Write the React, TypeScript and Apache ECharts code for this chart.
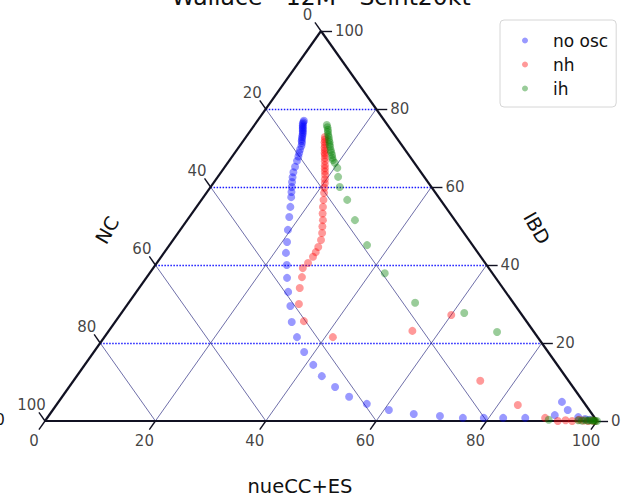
import React, { useEffect, useRef } from "react";
import * as echarts from "echarts";

const TITLE = "Wallace - 12M - Scint20kt";
const AXIS_BOTTOM = "nueCC+ES";
const AXIS_LEFT = "NC";
const AXIS_RIGHT = "IBD";
const tickValues = [0, 20, 40, 60, 80, 100];
const gridValues = [20, 40, 60, 80];
const seriesNames = ["no osc", "nh", "ih"];

// each point: [nueCC+ES %, IBD %]; NC = 100 - both
const noOsc: [number, number][] = [
  [8.4, 77.0], [8.5, 76.6], [8.6, 76.2], [8.8, 75.8], [9.0, 75.4], [9.2, 75.0], [9.4, 74.6],
  [9.6, 74.2], [9.8, 73.8], [10.0, 73.3], [10.2, 72.8], [10.4, 72.3], [10.6, 71.8], [10.9, 71.3],
  [11.2, 70.5], [11.4, 69.6], [11.7, 68.7], [12.0, 67.8], [12.3, 66.7], [12.7, 65.2], [13.1, 63.8],
  [13.6, 62.5], [14.1, 61.3], [14.7, 60.0], [15.3, 58.7], [15.9, 57.4], [17.0, 54.9], [18.1, 52.3],
  [19.5, 49.0], [20.9, 45.9], [22.1, 43.1], [23.8, 40.0], [25.5, 36.7], [27.5, 33.1], [29.7, 29.5],
  [32.0, 25.4], [34.9, 21.5], [38.1, 17.7], [41.4, 14.4], [44.4, 11.5], [48.2, 8.7], [52.0, 6.2],
  [56.1, 4.4], [60.9, 2.8], [65.9, 1.8], [70.9, 1.3], [75.3, 0.8], [79.1, 0.8], [82.6, 0.8],
  [86.6, 0.8], [91.6, 1.5], [91.2, 4.9], [93.3, 2.8], [96.1, 1.0], [97.6, 0.5], [98.5, 0.3],
];
const nh: [number, number][] = [
  [14.3, 72.8], [14.6, 72.2], [14.9, 71.5], [15.3, 70.8], [15.6, 70.1], [16.0, 69.4], [16.3, 68.7],
  [16.6, 68.2], [17.0, 67.4], [17.4, 66.6], [17.9, 65.6], [18.3, 64.8], [18.7, 64.0], [19.2, 63.1],
  [19.7, 62.0], [20.2, 61.0], [20.7, 59.8], [21.3, 58.5], [22.1, 56.7], [22.9, 54.9], [23.7, 53.2],
  [24.6, 51.5], [25.3, 49.9], [26.1, 48.2], [26.8, 46.4], [27.2, 44.6], [27.4, 43.3], [27.5, 42.1],
  [27.4, 40.5], [27.1, 39.2], [28.1, 36.9], [29.1, 34.1], [31.0, 30.0], [34.1, 25.6], [41.4, 21.5],
  [55.0, 23.1], [60.0, 27.2], [73.7, 10.3], [83.6, 4.1], [90.2, 0.8], [92.9, 0.0], [94.2, 0.2],
  [95.5, 0.0], [96.6, 0.3], [97.5, 0.1], [98.4, 0.0], [99.1, 0.1], [99.6, 0.0],
];
const ih: [number, number][] = [
  [13.1, 75.9], [13.5, 75.3], [13.9, 74.7], [14.2, 74.1], [14.6, 73.4], [15.0, 72.8], [15.4, 72.1],
  [15.8, 71.5], [16.1, 70.9], [16.5, 70.3], [17.0, 69.5], [17.4, 68.9], [17.9, 68.2], [18.3, 67.5],
  [18.7, 66.9], [19.4, 66.2], [20.5, 64.9], [21.8, 62.6], [23.4, 60.0], [26.4, 56.7], [30.4, 51.5],
  [35.8, 45.1], [42.6, 37.9], [51.9, 30.3], [62.1, 27.7], [70.5, 22.8], [91.1, 0.3], [96.5, 0.2],
  [97.2, 0.1], [97.8, 0.2], [98.3, 0.1], [98.7, 0.2], [99.1, 0.1], [99.4, 0.1], [99.7, 0.0], [100, 0],
];
const seriesData = [noOsc, nh, ih];
const seriesColors = ["rgba(0,0,255,0.5)", "rgba(255,0,0,0.5)", "rgba(0,128,0,0.5)"];

const FONT = "DejaVu Sans";
// ternary [b, t] -> cartesian [x, y]
const toXY = (b: number, t: number): [number, number] => [b + t / 2, t];

export default function App() {
  const ref = useRef<HTMLDivElement>(null);
  useEffect(() => {
    if (!ref.current) return;
    const chart = echarts.init(ref.current, undefined, { renderer: "svg" });

    const horiz = gridValues.map((k) => ({ coords: [toXY(0, k), toXY(100 - k, k)] }));
    const diagB = gridValues.map((k) => ({ coords: [toXY(k, 0), toXY(k, 100 - k)] }));
    const diagL = gridValues.map((k) => ({ coords: [toXY(100 - k, 0), toXY(0, 100 - k)] }));

    const d = 2.2;
    const tickSegs: any[] = [];
    tickValues.forEach((v) => {
      const pb = toXY(v, 0);
      tickSegs.push({ coords: [pb, [pb[0] - d / 2, -d]] });
      const pl = toXY(0, 100 - v);
      tickSegs.push({ coords: [pl, [pl[0] - d / 2, pl[1] + d]] });
      const pr = toXY(100 - v, v);
      tickSegs.push({ coords: [pr, [pr[0] + 2, pr[1]]] });
    });

    const labelSeries = (data: any[], offset: number[], align: string) => ({
      type: "scatter",
      silent: true,
      symbolSize: 1,
      clip: false,
      itemStyle: { color: "transparent" },
      data,
      z: 5,
      label: {
        show: true,
        position: "inside",
        offset,
        align,
        verticalAlign: "middle",
        fontFamily: FONT,
        fontSize: 15,
        color: "#111",
        formatter: (p: any) => String(p.data.name),
      },
    });

    const option: any = {
      animation: false,
      backgroundColor: "#fff",
      grid: { left: 45, top: 31, width: 552, height: 390, containLabel: false },
      xAxis: { type: "value", min: 0, max: 100, show: false },
      yAxis: { type: "value", min: 0, max: 100, show: false },
      legend: {
        orient: "vertical",
        left: 500,
        top: 20,
        padding: [12, 8, 10, 22],
        itemWidth: 6,
        itemHeight: 6,
        itemGap: 7,
        icon: "circle",
        borderColor: "#d6d6d6",
        borderWidth: 1,
        borderRadius: 4,
        backgroundColor: "#fff",
        textStyle: { fontFamily: FONT, fontSize: 17, color: "#111", padding: [0, 0, 0, 20] },
        data: seriesNames,
      },
      series: [
        {
          type: "lines",
          coordinateSystem: "cartesian2d",
          silent: true,
          clip: false,
          z: 1,
          lineStyle: { color: "#0000ff", width: 1.3, type: [1.5, 1.5], opacity: 0.9 },
          data: horiz,
        },
        {
          type: "lines",
          coordinateSystem: "cartesian2d",
          silent: true,
          clip: false,
          z: 1,
          lineStyle: { color: "#2a2a80", width: 0.8, opacity: 0.85 },
          data: [...diagB, ...diagL],
        },
        {
          type: "lines",
          coordinateSystem: "cartesian2d",
          silent: true,
          clip: false,
          z: 2,
          lineStyle: { color: "#111122", width: 2.2, opacity: 1 },
          data: [
            { coords: [toXY(0, 0), toXY(100, 0)] },
            { coords: [toXY(100, 0), toXY(0, 100)] },
            { coords: [toXY(0, 100), toXY(0, 0)] },
          ],
        },
        {
          type: "lines",
          coordinateSystem: "cartesian2d",
          silent: true,
          clip: false,
          z: 2,
          lineStyle: { color: "#111122", width: 1.4, opacity: 1 },
          data: tickSegs,
        },
        labelSeries(
          tickValues.map((v) => ({ name: v, value: toXY(v, 0) })),
          [-11, 20],
          "center"
        ),
        labelSeries(
          tickValues.map((v) => ({ name: v, value: toXY(0, 100 - v) })),
          [-13.5, -16.5],
          "center"
        ),
        labelSeries(
          tickValues.map((v) => ({ name: v, value: toXY(100 - v, v) })),
          [14, 0],
          "left"
        ),
        ...seriesNames.map((name, i) => ({
          name,
          type: "scatter",
          symbol: "circle",
          symbolSize: 8,
          clip: false,
          z: 10,
          itemStyle: { color: seriesColors[i] },
          data: seriesData[i].map(([b, t]) => toXY(b, t)),
        })),
      ],
      graphic: [
        {
          type: "text",
          x: 321,
          y: 9,
          style: { text: TITLE, fontFamily: FONT, fontSize: 23.5, fill: "#111", align: "center", verticalAlign: "bottom" },
        },
        {
          type: "text",
          x: 300,
          y: 486,
          style: { text: AXIS_BOTTOM, fontFamily: FONT, fontSize: 19.5, fill: "#111", align: "center", verticalAlign: "middle" },
        },
        {
          type: "text",
          x: 107,
          y: 230,
          rotation: Math.PI / 3,
          style: { text: AXIS_LEFT, fontFamily: FONT, fontSize: 19, fill: "#111", align: "center", verticalAlign: "middle" },
        },
        {
          type: "text",
          x: 537,
          y: 228,
          rotation: -Math.PI / 3,
          style: { text: AXIS_RIGHT, fontFamily: FONT, fontSize: 19, fill: "#111", align: "center", verticalAlign: "middle" },
        },
        {
          type: "text",
          x: 0,
          y: 420,
          style: { text: "0", fontFamily: FONT, fontSize: 15, fill: "#111", align: "center", verticalAlign: "middle" },
        },
      ],
    };
    chart.setOption(option);
    return () => chart.dispose();
  }, []);
  return (
    <div
      ref={ref}
      style={{ position: "fixed", left: 0, top: 0, width: 628, height: 498, background: "#fff" }}
    />
  );
}
